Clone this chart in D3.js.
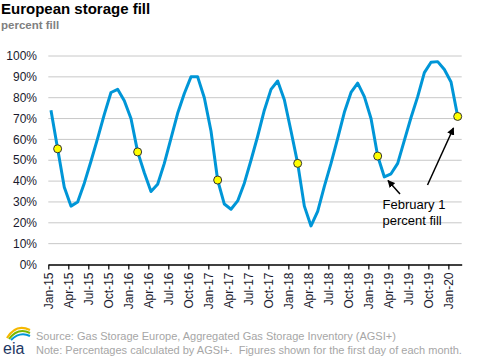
<!DOCTYPE html>
<html><head><meta charset="utf-8">
<script src="https://cdn.jsdelivr.net/npm/d3@7"></script>
<style>
body{margin:0;background:#fff;}
svg text{font-family:"Liberation Sans",Arial,sans-serif;}
</style></head>
<body><svg id="c" width="482" height="360"></svg>
<script>
const months = ["Jan-15","Feb-15","Mar-15","Apr-15","May-15","Jun-15","Jul-15","Aug-15","Sep-15","Oct-15","Nov-15","Dec-15",
"Jan-16","Feb-16","Mar-16","Apr-16","May-16","Jun-16","Jul-16","Aug-16","Sep-16","Oct-16","Nov-16","Dec-16",
"Jan-17","Feb-17","Mar-17","Apr-17","May-17","Jun-17","Jul-17","Aug-17","Sep-17","Oct-17","Nov-17","Dec-17",
"Jan-18","Feb-18","Mar-18","Apr-18","May-18","Jun-18","Jul-18","Aug-18","Sep-18","Oct-18","Nov-18","Dec-18",
"Jan-19","Feb-19","Mar-19","Apr-19","May-19","Jun-19","Jul-19","Aug-19","Sep-19","Oct-19","Nov-19","Dec-19",
"Jan-20","Feb-20"];
const fill = [74,55.5,37,28,30,39,49.5,60.5,72,82.5,84,78.5,
70,54,44,35,38.5,48.5,60.5,72.5,82,90,90,80,
64,40.5,29,26.5,30.5,39,50,61.5,74,84,88,79,
64,48.5,28,18.5,25.5,37.5,48.5,60.5,73,82.5,87,80.5,
70,52,42,43.5,48.5,59.5,70.5,80.5,92,97,97.3,93.5,
87.5,71];
const febIdx = [1,13,25,37,49,61];
const tickLabels = ["Jan-15","Apr-15","Jul-15","Oct-15","Jan-16","Apr-16","Jul-16","Oct-16","Jan-17","Apr-17","Jul-17","Oct-17",
"Jan-18","Apr-18","Jul-18","Oct-18","Jan-19","Apr-19","Jul-19","Oct-19","Jan-20"];
const yTicks = [0,10,20,30,40,50,60,70,80,90,100];

const svg = d3.select("#c");
const x = d3.scaleLinear().domain([0,62]).range([48.3,461.7]);
const y = d3.scaleLinear().domain([0,100]).range([264.5,56]);
const px = i => x(i + 0.4);

// title
svg.append("text").attr("x",1).attr("y",14).attr("font-size",15).attr("font-weight","bold").attr("fill","#000").text("European storage fill");
svg.append("text").attr("x",1).attr("y",29).attr("font-size",11.5).attr("font-weight","bold").attr("fill","#808080").text("percent fill");

// gridlines
svg.append("g").selectAll("line").data(yTicks.filter(d=>d>0)).join("line")
  .attr("x1",x(0)).attr("x2",x(62)).attr("y1",d=>y(d)).attr("y2",d=>y(d))
  .attr("stroke","#c8c8c8").attr("stroke-width",1);

// y labels
svg.append("g").selectAll("text").data(yTicks).join("text")
  .attr("x",37).attr("y",d=>y(d)).attr("dy","0.35em").attr("text-anchor","end")
  .attr("font-size",12).attr("fill","#1a1a2e").text(d=>d+"%");

// x axis
const xAxis = d3.axisBottom(x).tickValues(tickLabels.map((d,k)=>k*3)).tickFormat((d,k)=>tickLabels[k]).tickSize(5).tickSizeOuter(0);
const gx = svg.append("g").attr("transform",`translate(0,${y(0)})`).call(xAxis);
gx.select(".domain").attr("stroke","#000").attr("stroke-width",1.5);
gx.selectAll(".tick line").attr("stroke","#000").attr("stroke-width",1.2);
gx.selectAll(".tick text").attr("transform","rotate(-90)").attr("text-anchor","end")
  .attr("x",-8).attr("y",0).attr("dy","0.35em").attr("font-size",12).attr("fill","#1a1a2e")
  .attr("font-family","Liberation Sans, Arial, sans-serif");

// line
const line = d3.line().x((d,i)=>px(i)).y(d=>y(d));
svg.append("path").datum(fill).attr("d",line).attr("fill","none").attr("stroke","#0096d7").attr("stroke-width",3).attr("stroke-linejoin","round");

// dots
svg.append("g").selectAll("circle").data(febIdx).join("circle")
  .attr("cx",i=>px(i)).attr("cy",i=>y(fill[i])).attr("r",4)
  .attr("fill","#ffff00").attr("stroke","#333").attr("stroke-width",1);

// annotation
const defs = svg.append("defs");
defs.append("marker").attr("id","ah").attr("viewBox","0 0 10 10").attr("refX",9).attr("refY",5)
  .attr("markerWidth",5).attr("markerHeight",5).attr("orient","auto")
  .append("path").attr("d","M0,0L10,5L0,10z").attr("fill","#000");
svg.append("line").attr("x1",400).attr("y1",194).attr("x2",388).attr("y2",180.5).attr("stroke","#000").attr("stroke-width",1.5).attr("marker-end","url(#ah)");
svg.append("line").attr("x1",427.5).attr("y1",185).attr("x2",453.5).attr("y2",128).attr("stroke","#000").attr("stroke-width",1.5).attr("marker-end","url(#ah)");
svg.append("text").attr("x",382.5).attr("y",208.5).attr("font-size",13).attr("fill","#000").text("February 1");
svg.append("text").attr("x",382.5).attr("y",224.5).attr("font-size",13).attr("fill","#000").text("percent fill");

// footer
svg.append("text").attr("x",36).attr("y",340).attr("font-size",11).attr("fill","#a6a6a6").text("Source: Gas Storage Europe, Aggregated Gas Storage Inventory (AGSI+)");
svg.append("text").attr("x",36).attr("y",353.5).attr("font-size",11).attr("fill","#a6a6a6").text("Note: Percentages calculated by AGSI+.  Figures shown for the first day of each month.").attr("xml:space","preserve").style("white-space","pre");

// eia logo
const lg = svg.append("g");
lg.append("path").attr("d","M7,338 Q16,323 30,330").attr("fill","none").attr("stroke","#f5b800").attr("stroke-width",2.2);
lg.append("path").attr("d","M9,339 Q18,327 30,333").attr("fill","none").attr("stroke","#7ab800").attr("stroke-width",2);
lg.append("path").attr("d","M11,340 Q20,331 30,336").attr("fill","none").attr("stroke","#0096d7").attr("stroke-width",2);
lg.append("text").attr("x",3).attr("y",354).attr("font-family","Liberation Serif, Times New Roman, serif").attr("font-size",16).attr("fill","#1f3864").text("eia");
</script></body></html>
